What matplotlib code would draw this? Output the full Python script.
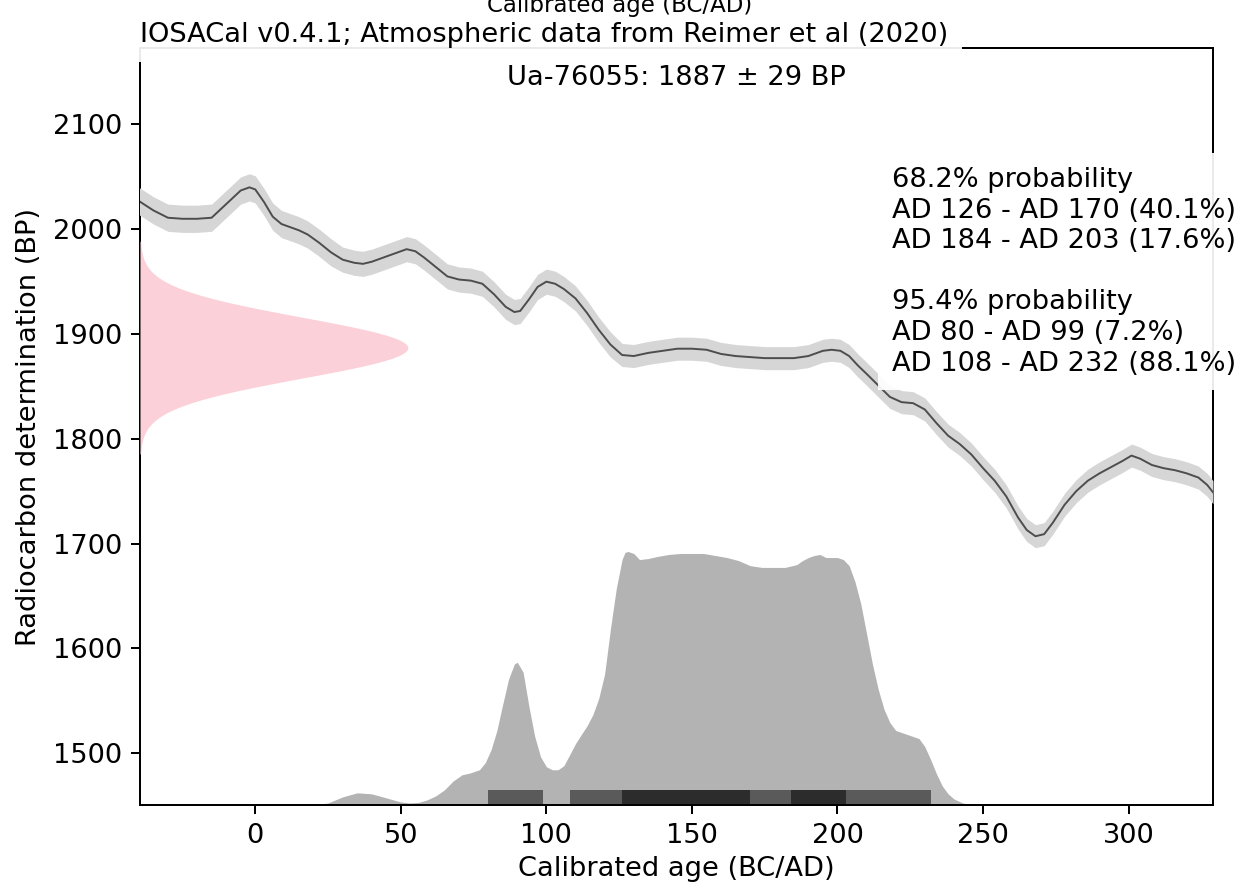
import numpy as np
import matplotlib
matplotlib.use("Agg")
import matplotlib.pyplot as plt

# ---------------- data ----------------
sample_label = "Ua-76055"
c14_age = 1887
c14_sigma = 29

curve_years = [-40, -35, -30, -25, -20, -15, -10, -5, -2, 0, 3, 6, 9, 12, 15, 18, 22, 26, 30, 34,
               37, 40, 44, 48, 52, 55, 58, 62, 66, 70, 74, 78, 82, 86, 89, 91, 94, 97, 100, 103,
               106, 110, 114, 118, 122, 126, 130, 135, 140, 145, 150, 155, 160, 165, 170, 175, 180,
               185, 190, 195, 198, 201, 204, 207, 210, 214, 218, 222, 226, 230, 234, 238, 242, 246,
               250, 254, 258, 262, 265, 268, 271, 274, 278, 282, 286, 290, 294, 298, 301, 304, 308,
               312, 316, 320, 324, 327, 329]
curve_bp = [2027, 2018, 2011, 2010, 2010, 2011, 2024, 2037, 2040, 2038, 2026, 2012, 2005, 2002, 1999,
            1995, 1987, 1978, 1971, 1968, 1967, 1969, 1973, 1977, 1981, 1979, 1973, 1964, 1955, 1952,
            1951, 1948, 1938, 1926, 1921, 1922, 1933, 1945, 1950, 1948, 1943, 1934, 1920, 1904, 1890,
            1880, 1879, 1882, 1884, 1886, 1886, 1885, 1881, 1879, 1878, 1877, 1877, 1877, 1879, 1884,
            1885, 1884, 1879, 1870, 1862, 1851, 1840, 1835, 1834, 1828, 1815, 1803, 1795, 1785, 1772,
            1760, 1745, 1725, 1713, 1707, 1709, 1720, 1737, 1750, 1760, 1767, 1773, 1779, 1784, 1781,
            1775, 1772, 1770, 1767, 1763, 1756, 1749]
curve_err = [13, 13, 13, 13, 13, 13, 13, 13, 13, 13, 13, 13, 13, 13, 13, 13, 13, 13, 12, 12,
             12, 12, 12, 12, 12, 12, 12, 12, 12, 12, 12, 12, 12, 12, 12, 12, 12, 12, 12, 12,
             12, 12, 12, 12, 12, 11, 11, 11, 11, 11, 11, 11, 11, 11, 11, 11, 11, 11, 11, 11,
             11, 11, 11, 11, 11, 11, 11, 11, 11, 11, 11, 11, 11, 11, 11, 11, 11, 11, 11, 11,
             11, 11, 11, 11, 11, 11, 11, 11, 11, 11, 11, 11, 11, 11, 11, 11, 11]

cal_years = [20, 25, 30, 35, 40, 45, 50, 53, 56, 59, 62, 65, 68, 71, 74, 77, 79, 81, 83, 85, 87, 89,
             90, 92, 94, 96, 98, 100, 102, 104, 106, 108, 110, 112, 114, 116, 118, 120, 122, 124,
             126, 127, 128, 130, 132, 135, 138, 142, 146, 150, 154, 158, 162, 166, 170, 174, 178,
             182, 186, 188, 190, 192, 194, 196, 198, 200, 202, 204, 206, 208, 210, 212, 214, 216,
             218, 220, 222, 224, 226, 228, 230, 232, 234, 236, 238, 240, 243, 246, 250]
cal_prob = [0.000, 0.008, 0.032, 0.048, 0.044, 0.028, 0.012, 0.008, 0.010, 0.020, 0.036, 0.060,
            0.095, 0.119, 0.127, 0.139, 0.167, 0.218, 0.294, 0.397, 0.496, 0.556, 0.563, 0.524,
            0.389, 0.270, 0.190, 0.151, 0.139, 0.139, 0.155, 0.198, 0.242, 0.278, 0.313, 0.357,
            0.421, 0.516, 0.694, 0.853, 0.968, 0.996, 1.000, 0.992, 0.968, 0.972, 0.980, 0.988,
            0.992, 0.992, 0.992, 0.984, 0.976, 0.964, 0.944, 0.937, 0.937, 0.937, 0.948, 0.964,
            0.976, 0.984, 0.988, 0.976, 0.976, 0.976, 0.968, 0.944, 0.881, 0.794, 0.675, 0.556,
            0.456, 0.377, 0.325, 0.294, 0.286, 0.278, 0.270, 0.262, 0.230, 0.179, 0.123, 0.075,
            0.044, 0.024, 0.008, 0.002, 0.000]

hpd_95 = [(80, 99), (108, 232)]
hpd_68 = [(126, 170), (184, 203)]

title = "IOSACal v0.4.1; Atmospheric data from Reimer et al (2020)"
info_text = ("68.2% probability\n"
             "AD 126 - AD 170 (40.1%)\n"
             "AD 184 - AD 203 (17.6%)\n"
             "\n"
             "95.4% probability\n"
             "AD 80 - AD 99 (7.2%)\n"
             "AD 108 - AD 232 (88.1%)")

xlim = (-39.6, 329)
ylim = (1450.5, 2173)
xticks = [0, 50, 100, 150, 200, 250, 300]
yticks = [1500, 1600, 1700, 1800, 1900, 2000, 2100]

# ---------------- style ----------------
FS = 19.6
plt.rcParams.update({
    "font.family": "DejaVu Sans",
    "font.size": FS,
    "axes.linewidth": 1.44,
    "xtick.major.size": 6.5,
    "ytick.major.size": 6.5,
    "xtick.major.width": 1.44,
    "ytick.major.width": 1.44,
    "xtick.major.pad": 6.3,
    "ytick.major.pad": 6.3,
})

fig = plt.figure(figsize=(12.4, 8.88), dpi=100)
W, H = 1240, 888
ax = fig.add_axes([140 / W, 1 - 805 / H, (1213 - 140) / W, (805 - 48) / H])

cy = np.array(curve_years, dtype=float)
cb = np.array(curve_bp, dtype=float)
ce = np.array(curve_err, dtype=float)

# calibration curve band + line
ax.fill_between(cy, cb - ce, cb + ce, color="#d6d6d6", lw=0, zorder=3)
ax.plot(cy, cb, color="#4d4d4d", lw=1.4, zorder=3.1, solid_joinstyle="round")

# radiocarbon determination (normal distribution on the y axis)
bp_grid = np.linspace(c14_age - 3.5 * c14_sigma, c14_age + 3.5 * c14_sigma, 300)
dens = np.exp(-0.5 * ((bp_grid - c14_age) / c14_sigma) ** 2)
gauss_width = 92.0
ax.fill_betweenx(bp_grid, xlim[0], xlim[0] + dens * gauss_width, color="#fbd0d8", lw=0,
                 zorder=3)

# calibrated distribution
cal_height = 242.0
ax.fill_between(cal_years, ylim[0], ylim[0] + np.array(cal_prob) * cal_height,
                color="#b3b3b3", lw=0, zorder=2)

# HPD bars
bar_h = 14
ax.broken_barh([(a, b - a) for a, b in hpd_95], (ylim[0], bar_h), facecolors="#5a5a5a",
               zorder=2.2)
ax.broken_barh([(a, b - a) for a, b in hpd_68], (ylim[0], bar_h), facecolors="#2c2c2c",
               zorder=2.3)

ax.set_xlim(*xlim)
ax.set_ylim(*ylim)
ax.set_xticks(xticks)
ax.set_yticks(yticks)
ax.set_xlabel("Calibrated age (BC/AD)", labelpad=5)
ax.set_ylabel("Radiocarbon determination (BP)", labelpad=8)

ax.text(0.5, 0.978, f"{sample_label}: {c14_age} \u00b1 {c14_sigma} BP", transform=ax.transAxes,
        ha="center", va="top", fontsize=FS, zorder=6)

ax.text(0.0, 1.0, title, transform=ax.transAxes, ha="left", va="bottom", fontsize=FS,
        bbox=dict(facecolor="white", edgecolor="none", alpha=0.92, pad=10), zorder=6)

ax.text((892 - 140) / (1213 - 140), (805 - 167) / (805 - 48), info_text,
        transform=ax.transAxes, ha="left", va="top", fontsize=FS, linespacing=1.23,
        bbox=dict(facecolor="white", edgecolor="none", alpha=0.92, pad=10), zorder=6)

fig.text(0.5, 1 - 12 / H, "Calibrated age (BC/AD)", ha="center", va="baseline", fontsize=16.5)

fig.savefig("out.png", dpi=100)
